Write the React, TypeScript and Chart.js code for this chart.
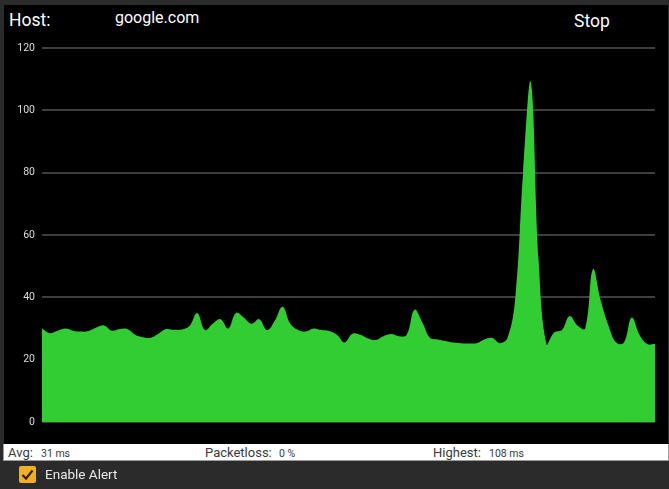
import React, { useEffect, useRef } from "react";
import { Chart, registerables } from "chart.js";

Chart.register(...registerables);

const HOST = "google.com";
const yTicks = [0, 20, 40, 60, 80, 100, 120];
const pingMs = [
  30, 28.5, 29.3, 30, 29.3, 29, 29.2, 30.3, 31, 29.3,
  29.8, 29.8, 28, 27.2, 27, 28.3, 29.8, 29.6, 29.7, 30.8,
  35, 29.5, 31.5, 33, 30, 35, 33.5, 31.5, 33, 29.5,
  32.5, 37, 31.5, 29.5, 29, 30, 29.5, 29.2, 28, 25.5,
  28.3, 28, 26.8, 26.3, 27.5, 28.2, 27.5, 28, 36, 32,
  27, 26.5, 26, 25.5, 25.3, 25.2, 25.3, 26.5, 27, 25.3,
  27, 40, 80, 109, 52, 25, 28.7, 29.5, 34, 31,
  30, 49, 39, 31, 25.5, 25.5, 33.5, 28, 25, 25,
];
const samples = pingMs.map((_, i) => String(i + 1));
const statLabels = ["Avg:", "Packetloss:", "Highest:"];
const statValues = ["31 ms", "0 %", "108 ms"];

export default function App() {
  const ref = useRef<HTMLCanvasElement>(null);
  useEffect(() => {
    if (!ref.current) return;
    const chart = new Chart(ref.current, {
      type: "line",
      data: {
        labels: samples,
        datasets: [
          {
            data: pingMs,
            fill: "origin",
            backgroundColor: "#32cd32",
            borderColor: "#32cd32",
            borderWidth: 0,
            pointRadius: 0,
            tension: 0.4,
          },
        ],
      },
      options: {
        animation: false,
        responsive: false,
        maintainAspectRatio: false,
        layout: { padding: { top: 48, bottom: 67, left: 4, right: 14 } },
        plugins: { legend: { display: false }, tooltip: { enabled: false } },
        scales: {
          x: { display: false, offset: false },
          y: {
            min: 0,
            max: 120,
            afterFit: (s: any) => {
              s.width = 38;
            },
            afterBuildTicks: (s: any) => {
              s.ticks = yTicks.map((v) => ({ value: v }));
            },
            border: { display: false },
            grid: { color: "#3e3e3e", lineWidth: 2, drawTicks: false },
            ticks: {
              color: "#dcdcdc",
              padding: 7,
              font: { family: "Roboto", size: 10.5 },
            },
          },
        },
      },
    });
    return () => chart.destroy();
  }, []);

  const abs = (s: React.CSSProperties): React.CSSProperties => ({ position: "absolute", whiteSpace: "nowrap", ...s });
  const labelX = [8, 205, 433];
  const valueX = [41, 279, 489];
  return (
    <div style={abs({ left: 0, top: 0, width: 669, height: 489, background: "#2b2b2b", fontFamily: "Roboto, sans-serif", overflow: "hidden" })}>
      <div style={abs({ left: 4, top: 5, width: 664, height: 439, background: "#000" })} />
      <div style={abs({ left: 9, top: 10, color: "#fff", fontSize: 17.5 })}>Host:</div>
      <div style={abs({ left: 115, top: 8, color: "#fff", fontSize: 16 })}>{HOST}</div>
      <div style={abs({ left: 574, top: 11, color: "#fff", fontSize: 17.5 })}>Stop</div>
      <canvas ref={ref} width={669} height={489} style={abs({ left: 0, top: 0, width: 669, height: 489 })} />
      <div style={abs({ left: 3, top: 444, width: 664, height: 16, background: "#fff", border: "1px solid #9a9a9a", borderTop: "none" })} />
      {statLabels.map((t, i) => (
        <div key={t} style={abs({ left: labelX[i], top: 445, color: "#3a3a3a", fontSize: 13 })}>{t}</div>
      ))}
      {statValues.map((t, i) => (
        <div key={t} style={abs({ left: valueX[i], top: 447, color: "#3a3a3a", fontSize: 10.5 })}>{t}</div>
      ))}
      <div style={abs({ left: 19, top: 466, width: 17, height: 17, background: "#f2b01e", borderRadius: 2 })}>
        <svg width={17} height={17} viewBox="0 0 17 17" style={{ display: "block" }}>
          <polyline points="3.5,9 7,12.5 13.5,4.5" fill="none" stroke="#2b2200" strokeWidth={2.2} />
        </svg>
      </div>
      <div style={abs({ left: 45, top: 466, color: "#e8e8e8", fontSize: 13.5 })}>Enable Alert</div>
    </div>
  );
}
